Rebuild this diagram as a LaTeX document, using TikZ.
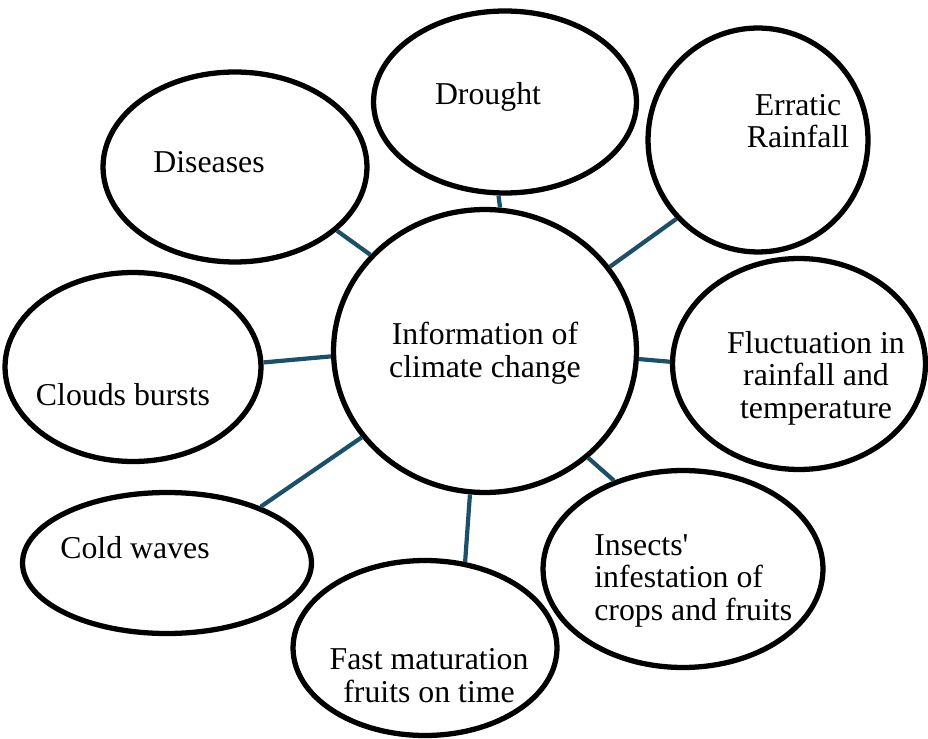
\documentclass[tikz,border=0pt]{standalone}
\usepackage{fontspec}
\setmainfont{Liberation Serif}
\usetikzlibrary{shapes.geometric}
\definecolor{mTeal}{HTML}{1A5069}

\begin{document}
\begin{tikzpicture}[x=0.02cm, y=-0.02cm,
    bubble/.style={draw=black, line width=3pt, ellipse, inner sep=0pt},
    spoke/.style={mTeal, line width=2.4pt},
    lbl/.style={inner sep=0pt, align=center, font=\fontsize{18.1}{18.4}\selectfont}]
    \useasboundingbox (0,0) rectangle (928,739);
    % centre bubble
    \node[bubble, minimum width=6.06cm, minimum height=5.66cm] (info) at (485,351) {};
    % outer bubbles, going round clockwise from the top left
    \node[bubble, minimum width=5.28cm, minimum height=3.80cm] (diseases) at (235,167) {};
    \node[bubble, minimum width=5.26cm, minimum height=3.64cm] (drought) at (505,102) {};
    \node[bubble, minimum width=4.40cm, minimum height=4.48cm] (erratic) at (758,140) {};
    \node[bubble, minimum width=5.06cm, minimum height=4.22cm] (fluct) at (799,364) {};
    \node[bubble, minimum width=5.60cm, minimum height=3.94cm] (insects) at (683,569) {};
    \node[bubble, minimum width=5.28cm, minimum height=3.50cm] (fast) at (425,648) {};
    \node[bubble, minimum width=5.78cm, minimum height=2.82cm] (cold) at (167,563) {};
    \node[bubble, minimum width=5.12cm, minimum height=3.78cm] (clouds) at (133,367) {};
    % texts sit off centre in most bubbles (base = last line)
    \node[lbl, anchor=base] (info-txt) at (485,377) {Information of\\climate change};
    \node[lbl, anchor=base] (diseases-txt) at (209,173) {Diseases};
    \node[lbl, anchor=base] (drought-txt) at (488,105) {Drought};
    \node[lbl, anchor=base] (erratic-txt) at (798,148) {Erratic\\Rainfall};
    \node[lbl, anchor=base] (fluct-txt) at (816,418) {Fluctuation in\\rainfall and\\temperature};
    \node[lbl, anchor=base west, align=left] (insects-txt) at (594,620) {Insects\textquotesingle\\infestation of\\crops and fruits};
    \node[lbl, anchor=base] (fast-txt) at (429,702) {Fast maturation\\fruits on time};
    \node[lbl, anchor=base] (cold-txt) at (135,558) {Cold waves};
    \node[lbl, anchor=base] (clouds-txt) at (123,405) {Clouds bursts};
    % spokes: angle on the centre bubble / angle on the outer bubble
    \foreach \n/\a/\b in {diseases/140/-32, drought/84/266, erratic/34/224, fluct/-3/179,
                          insects/-46/128, fast/264/65, cold/215/31, clouds/182/2}
      \draw[spoke] (info.\a) -- (\n.\b);
\end{tikzpicture}
\end{document}
